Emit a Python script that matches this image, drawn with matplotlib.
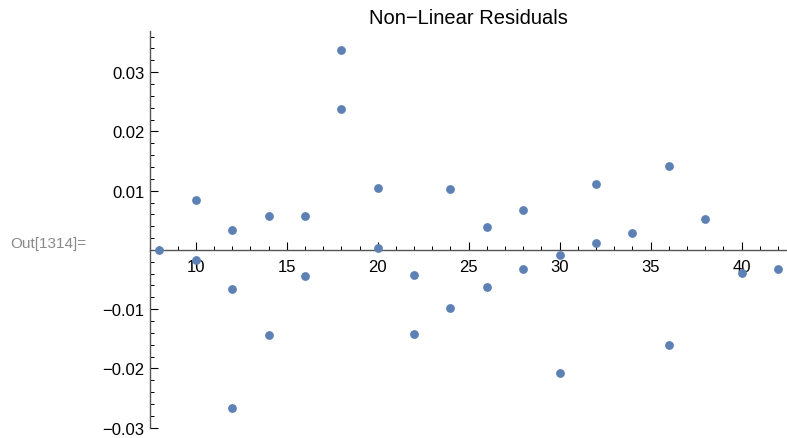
import numpy as np
import matplotlib.pyplot as plt
from matplotlib.ticker import FixedLocator, FuncFormatter

plt.rcParams['font.family'] = ['Liberation Sans', 'DejaVu Sans']

# residuals
x = [8, 10, 10, 12, 12, 12, 14, 14, 16, 16, 18, 18, 20, 20, 22, 22,
     24, 24, 26, 26, 28, 28, 30, 30, 32, 32, 34, 36, 36, 38, 40, 42]
res = [0.0000, 0.0084, -0.0017, 0.0034, -0.0066, -0.0266, 0.0057, -0.0144,
       0.0057, -0.0044, 0.0338, 0.0238, 0.0104, 0.0004, -0.0042, -0.0142,
       0.0103, -0.0098, 0.0039, -0.0062, 0.0068, -0.0032, -0.0008, -0.0208,
       0.0112, 0.0012, 0.0028, 0.0141, -0.0160, 0.0052, -0.0039, -0.0032]

x_major = [10, 15, 20, 25, 30, 35, 40]
y_major = [-0.03, -0.02, -0.01, 0.01, 0.02, 0.03]

fig = plt.figure(figsize=(7.87, 4.39), dpi=100)
ax = fig.add_axes([150 / 787, 1 - 428.7 / 439, 1 - 150 / 787, (428.7 - 32.3) / 439])

ax.scatter(x, res, s=40, color='#5E81B5', zorder=3, linewidths=0, clip_on=False)

ax.set_xlim(7.48, 42.5)
ax.set_ylim(-0.0300, 0.0369)

ax.spines['top'].set_visible(False)
ax.spines['right'].set_visible(False)
ax.spines['bottom'].set_position(('data', 0))
ax.spines['left'].set_position(('axes', 0))
for s in ['bottom', 'left']:
    ax.spines[s].set_color('#555555')
    ax.spines[s].set_linewidth(1.0)

ax.xaxis.set_major_locator(FixedLocator(x_major))
ax.xaxis.set_minor_locator(FixedLocator(np.arange(8, 43, 1)))
ax.yaxis.set_major_locator(FixedLocator(y_major))
ax.yaxis.set_minor_locator(FixedLocator(np.arange(-0.03, 0.0365, 0.002)))
ax.yaxis.set_major_formatter(FuncFormatter(lambda v, p: f"{v:.2f}".replace('-', '\u2212')))

ax.tick_params(axis='both', which='major', direction='in', length=6, width=0.8,
               color='black', labelsize=12, labelcolor='black')
ax.tick_params(axis='both', which='minor', direction='in', length=3.2, width=0.7,
               color='black')
ax.tick_params(axis='x', which='major', pad=6.5)
ax.tick_params(axis='y', which='major', pad=4)

fig.text(0.5 * (150 / 787 + 1), 1 - 18 / 439, 'Non\u2212Linear Residuals',
         ha='center', va='center', fontsize=14.5, color='black')
fig.text(10 / 787, 1 - 244 / 439, 'Out[1314]=', ha='left', va='center',
         fontsize=11, color='#8a8a8a')

fig.savefig('out.png', dpi=100)
